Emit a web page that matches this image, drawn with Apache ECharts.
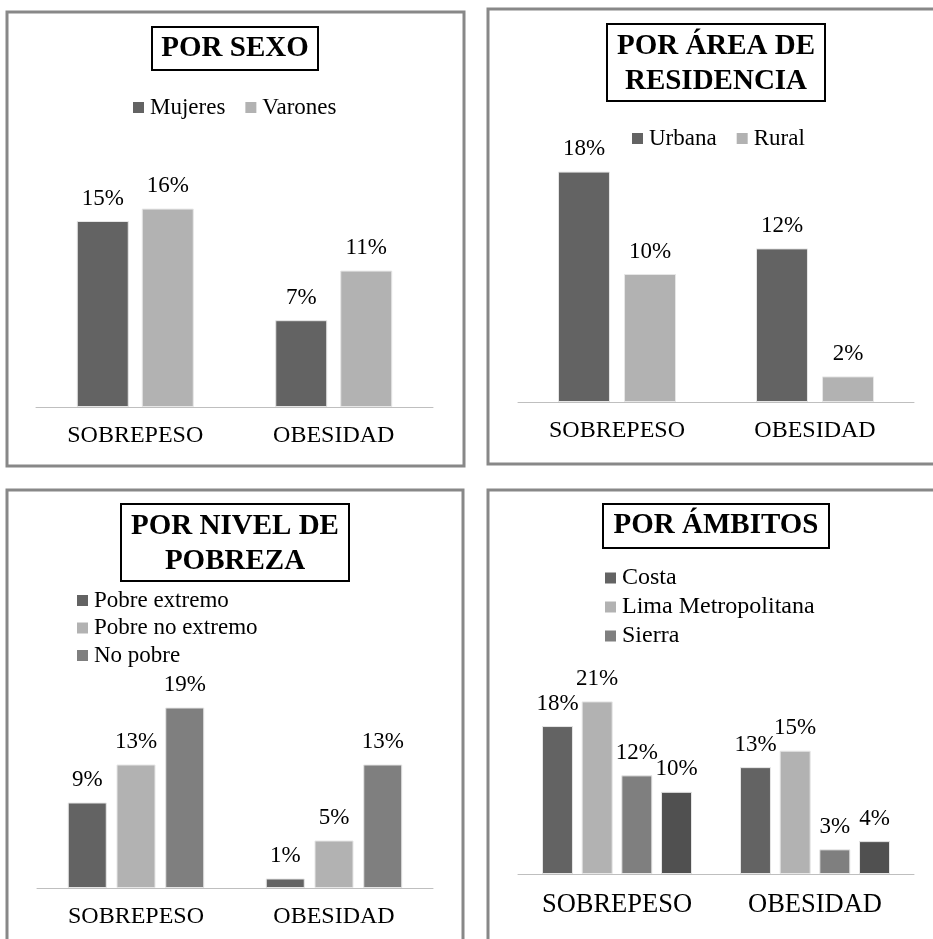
<!DOCTYPE html>
<html>
<head>
<meta charset="utf-8">
<script src="https://cdn.jsdelivr.net/npm/echarts@6/dist/echarts.min.js"></script>
<style>
html,body{margin:0;padding:0;background:#fff;}
#chart{width:933px;height:939px;}
</style>
</head>
<body>
<div id="chart"></div>
<script>
const categories = ['SOBREPESO', 'OBESIDAD'];

const titles = ['POR SEXO', 'POR ÁREA DE\nRESIDENCIA', 'POR NIVEL DE\nPOBREZA', 'POR ÁMBITOS'];

const sexoNames = ['Mujeres', 'Varones'];
const mujeres = [15, 7];
const varones = [16, 11];

const areaNames = ['Urbana', 'Rural'];
const urbana = [18, 12];
const rural = [10, 2];

const pobrezaNames = ['Pobre extremo', 'Pobre no extremo', 'No pobre'];
const pobreExtremo = [9, 1];
const pobreNoExtremo = [13, 5];
const noPobre = [19, 13];

const ambitoNames = ['Costa', 'Lima Metropolitana', 'Sierra', 'Selva'];
const costa = [18, 13];
const limaMetropolitana = [21, 15];
const sierra = [12, 3];
const selva = [10, 4];

const FONT = '"Liberation Serif", "Times New Roman", serif';
const DARK = '#636363', LIGHT = '#b2b2b2', MID = '#7f7f7f', DARKER = '#505050';

const chart = echarts.init(document.getElementById('chart'));

const panels = [
  { grid: {left: 36, top: 159, width: 397, height: 248}, max: 20, labelSize: 24, labelMargin: 17,
    names: sexoNames, data: [mujeres, varones], colors: [DARK, LIGHT], barWidth: 52, barGap: '25%',
    legend: {left: 133, top: 96, orient: 'horizontal', itemGap: 20, fontSize: 23} },
  { grid: {left: 518, top: 146, width: 396, height: 256}, max: 20, labelSize: 24, labelMargin: 17,
    names: areaNames, data: [urbana, rural], colors: [DARK, LIGHT], barWidth: 52, barGap: '27%',
    legend: {left: 632, top: 127, orient: 'horizontal', itemGap: 20, fontSize: 23} },
  { grid: {left: 37, top: 698, width: 396, height: 190}, max: 20, labelSize: 24, labelMargin: 17,
    names: pobrezaNames, data: [pobreExtremo, pobreNoExtremo, noPobre], colors: [DARK, LIGHT, MID], barWidth: 39, barGap: '25%',
    legend: {left: 77, top: 589, orient: 'vertical', itemGap: 4.5, fontSize: 23} },
  { grid: {left: 518, top: 668.5, width: 396, height: 205.5}, max: 25, labelSize: 26.5, labelMargin: 17.5,
    names: ambitoNames, data: [costa, limaMetropolitana, sierra, selva], colors: [DARK, LIGHT, MID, DARKER], barWidth: 31, barGap: '28%',
    legend: {left: 605, top: 566, orient: 'vertical', itemGap: 5, fontSize: 24} }
];

const grids = [], xAxes = [], yAxes = [], series = [], legends = [];
panels.forEach((p, i) => {
  grids.push(Object.assign({containLabel: false}, p.grid));
  xAxes.push({
    type: 'category', gridIndex: i, data: categories,
    axisLine: {show: true, lineStyle: {color: '#bfbfbf', width: 1}},
    axisTick: {show: false},
    axisLabel: {color: '#000', fontFamily: FONT, fontSize: p.labelSize, margin: p.labelMargin}
  });
  yAxes.push({type: 'value', gridIndex: i, min: 0, max: p.max, show: false, splitLine: {show: false}});
  p.names.forEach((n, k) => {
    series.push({
      type: 'bar', name: n, xAxisIndex: i, yAxisIndex: i,
      data: p.data[k], barWidth: p.barWidth, barGap: p.barGap,
      itemStyle: {color: p.colors[k], borderColor: '#e6e6e6', borderWidth: 1},
      label: {show: true, position: 'top', distance: 11, formatter: '{c}%',
              color: '#000', fontFamily: FONT, fontSize: 23},
      emphasis: {disabled: true}, animation: false
    });
  });
  const legendNames = i === 3 ? p.names.slice(0, 3) : p.names;
  legends.push({
    data: legendNames, left: p.legend.left, top: p.legend.top, orient: p.legend.orient,
    itemGap: p.legend.itemGap, itemWidth: 11, itemHeight: 11, icon: 'rect', padding: 0,
    selectedMode: false,
    itemStyle: {borderWidth: 0},
    textStyle: {color: '#000', fontFamily: FONT, fontSize: p.legend.fontSize, padding: [0, 0, 0, 1]}
  });
});

const titleBoxes = [
  {x: 152, y: 27, w: 166, h: 43, cx: 235, cy: 48.5},
  {x: 607, y: 24, w: 218, h: 77, cx: 716, cy: 64.5},
  {x: 121, y: 504, w: 228, h: 77, cx: 235, cy: 544},
  {x: 603, y: 504, w: 226, h: 44, cx: 716, cy: 526}
];
const panelBorders = [
  {x: 7, y: 12, w: 457, h: 454},
  {x: 488, y: 9, w: 460, h: 455},
  {x: 7, y: 490, w: 456, h: 470},
  {x: 488, y: 490, w: 460, h: 470}
];

const graphics = [];
panelBorders.forEach(b => graphics.push({
  type: 'rect', shape: {x: b.x, y: b.y, width: b.w, height: b.h}, silent: true,
  style: {fill: null, stroke: '#888888', lineWidth: 3}
}));
titleBoxes.forEach((t, i) => {
  graphics.push({
    type: 'rect', shape: {x: t.x, y: t.y, width: t.w, height: t.h}, silent: true,
    style: {fill: '#fff', stroke: '#000', lineWidth: 2}
  });
  graphics.push({
    type: 'text', x: t.cx, y: t.cy, silent: true,
    style: {text: titles[i], align: 'center', verticalAlign: 'middle',
            font: 'bold 29px ' + FONT, fill: '#000', lineHeight: 35}
  });
});

chart.setOption({
  animation: false,
  backgroundColor: '#fff',
  grid: grids, xAxis: xAxes, yAxis: yAxes, series: series, legend: legends,
  graphic: graphics
});
</script>
</body>
</html>
